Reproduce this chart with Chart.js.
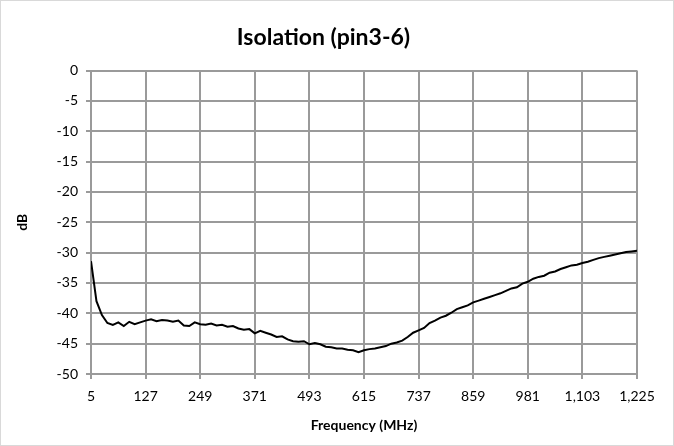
<!DOCTYPE html>
<html>
<head>
<meta charset="utf-8">
<script src="https://cdn.jsdelivr.net/npm/chart.js@4/dist/chart.umd.min.js"></script>
<style>
  html, body { margin: 0; padding: 0; background: #fff; }
  #wrap { width: 674px; height: 446px; position: relative; }
</style>
</head>
<body>
<div id="wrap"><canvas id="chart"></canvas></div>
<script>
// frequency points (MHz), 12.2 MHz apart
const freqs = [
  5, 17.2, 29.4, 41.6, 53.8, 66, 78.2, 90.4, 102.6, 114.8,
  127, 139.2, 151.4, 163.6, 175.8, 188, 200.2, 212.4, 224.6, 236.8,
  249, 261.2, 273.4, 285.6, 297.8, 310, 322.2, 334.4, 346.6, 358.8,
  371, 383.2, 395.4, 407.6, 419.8, 432, 444.2, 456.4, 468.6, 480.8,
  493, 505.2, 517.4, 529.6, 541.8, 554, 566.2, 578.4, 590.6, 602.8,
  615, 627.2, 639.4, 651.6, 663.8, 676, 688.2, 700.4, 712.6, 724.8,
  737, 749.2, 761.4, 773.6, 785.8, 798, 810.2, 822.4, 834.6, 846.8,
  859, 871.2, 883.4, 895.6, 907.8, 920, 932.2, 944.4, 956.6, 968.8,
  981, 993.2, 1005.4, 1017.6, 1029.8, 1042, 1054.2, 1066.4, 1078.6, 1090.8,
  1103, 1115.2, 1127.4, 1139.6, 1151.8, 1164, 1176.2, 1188.4, 1200.6, 1212.8,
  1225
];

// isolation (dB)
const isolation = [
  -31.4, -38.0, -40.3, -41.6, -41.9, -41.5, -42.1, -41.4, -41.8, -41.5,
  -41.2, -41.0, -41.3, -41.1, -41.2, -41.4, -41.2, -42.0, -42.1, -41.5,
  -41.8, -41.9, -41.7, -42.0, -41.9, -42.2, -42.1, -42.5, -42.7, -42.6,
  -43.3, -42.9, -43.2, -43.5, -43.9, -43.8, -44.3, -44.6, -44.7, -44.6,
  -45.1, -44.9, -45.1, -45.5, -45.6, -45.8, -45.8, -46.0, -46.1, -46.4,
  -46.1, -45.9, -45.8, -45.6, -45.4, -45.0, -44.8, -44.5, -43.9, -43.2,
  -42.8, -42.4, -41.6, -41.2, -40.7, -40.4, -39.9, -39.3, -39.0, -38.7,
  -38.2, -37.9, -37.6, -37.3, -37.0, -36.7, -36.3, -35.9, -35.7, -35.1,
  -34.8, -34.3, -34.0, -33.8, -33.3, -33.1, -32.7, -32.4, -32.1, -32.0,
  -31.7, -31.5, -31.2, -30.9, -30.7, -30.5, -30.3, -30.1, -29.9, -29.8,
  -29.7
];

const xTicks = [5, 127, 249, 371, 493, 615, 737, 859, 981, 1103, 1225];
const yTicks = [-50, -45, -40, -35, -30, -25, -20, -15, -10, -5, 0];

const font = "Lato, 'Open Sans', sans-serif";
const gridColor = '#9a9a9a';

const frame = {
  id: 'frame',
  beforeDraw(chart) {
    const c = chart.ctx;
    c.save();
    c.fillStyle = '#fff';
    c.fillRect(0, 0, chart.width, chart.height);
    c.strokeStyle = '#d9d9d9';
    c.lineWidth = 1;
    c.strokeRect(0.5, 0.5, chart.width - 1, chart.height - 1);
    c.restore();
  }
};

new Chart(document.getElementById('chart'), {
  type: 'line',
  data: {
    datasets: [{
      data: freqs.map((f, i) => ({ x: f, y: isolation[i] })),
      borderColor: '#000',
      borderWidth: 2,
      pointRadius: 0,
      tension: 0,
      fill: false
    }]
  },
  options: {
    responsive: true,
    maintainAspectRatio: false,
    animation: false,
    layout: { padding: { top: 0, left: 10, right: 37, bottom: 8 } },
    plugins: {
      legend: { display: false },
      tooltip: { enabled: false },
      title: {
        display: true,
        text: 'Isolation (pin3-6)',
        color: '#000',
        font: { family: font, size: 23, weight: 'bold' },
        padding: { top: 24, bottom: 19 }
      }
    },
    scales: {
      x: {
        type: 'linear',
        min: 5,
        max: 1225,
        afterBuildTicks: s => { s.ticks = xTicks.map(v => ({ value: v })); },
        afterFit: s => { s.height = 64; },
        grid: { color: gridColor, lineWidth: 2, tickLength: 5 },
        border: { color: gridColor, width: 2 },
        ticks: {
          color: '#000',
          font: { family: font, size: 14 },
          maxRotation: 0,
          autoSkip: false,
          padding: 9
        },
        title: {
          display: true,
          text: 'Frequency (MHz)',
          color: '#000',
          font: { family: font, size: 14, weight: 'bold' },
          padding: { top: 4, bottom: 4 }
        }
      },
      y: {
        min: -50,
        max: 0,
        afterBuildTicks: s => { s.ticks = yTicks.map(v => ({ value: v })); },
        afterFit: s => { s.width = 81; },
        grid: { color: gridColor, lineWidth: 2, tickLength: 5 },
        border: { color: gridColor, width: 2 },
        ticks: {
          color: '#000',
          font: { family: font, size: 14 },
          padding: 8
        },
        title: {
          display: true,
          text: 'dB',
          color: '#000',
          font: { family: font, size: 14, weight: 'bold' },
          padding: { bottom: 4 }
        }
      }
    }
  },
  plugins: [frame]
});
</script>
</body>
</html>
